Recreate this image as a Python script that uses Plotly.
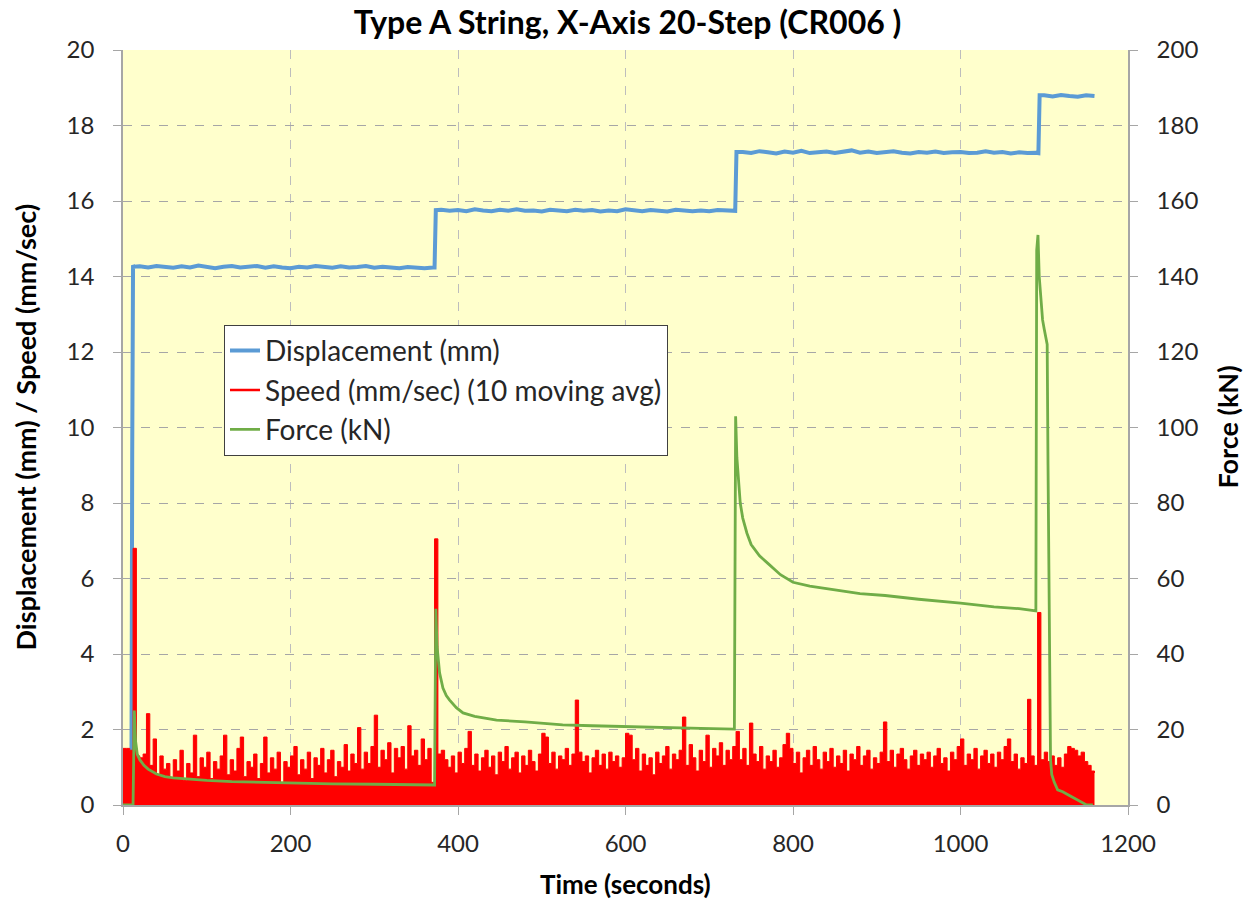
import numpy as np
import plotly.graph_objects as go

# ---------------- data ----------------
# Displacement (mm): times and values
disp_time_start = [0, 10, 11, 12, 13]
disp_start = [0.0, 0.0, 9.3, 14.3, 14.26]
disp_p1 = [14.27, 14.24, 14.28, 14.25, 14.23, 14.27, 14.24, 14.29, 14.25, 14.22,
           14.26, 14.28, 14.24, 14.25, 14.28, 14.23, 14.27, 14.24, 14.22, 14.26,
           14.24, 14.28, 14.25, 14.23, 14.27, 14.24, 14.25, 14.28, 14.23, 14.26,
           14.24, 14.22, 14.25, 14.23, 14.22, 14.24]          # t = 20, 30, ...
disp_p2 = [15.77, 15.74, 15.76, 15.73, 15.78, 15.75, 15.73, 15.77, 15.74, 15.78,
           15.74, 15.75, 15.72, 15.77, 15.75, 15.73, 15.77, 15.74, 15.76, 15.72,
           15.75, 15.73, 15.78, 15.75, 15.73, 15.76, 15.74, 15.72, 15.77, 15.75,
           15.73, 15.75, 15.73, 15.76, 15.74, 15.72]          # t = 380, 390, ...
disp_p3 = [17.30, 17.27, 17.32, 17.29, 17.26, 17.31, 17.28, 17.33, 17.27, 17.29,
           17.31, 17.27, 17.30, 17.34, 17.28, 17.31, 17.27, 17.29, 17.32, 17.28,
           17.26, 17.30, 17.28, 17.31, 17.27, 17.29, 17.30, 17.27, 17.28, 17.32,
           17.28, 17.30, 17.26, 17.29, 17.27, 17.28]          # t = 740, 750, ...
disp_p4 = [18.80, 18.77, 18.81, 18.78, 18.76, 18.80, 18.78]  # t = 1100, 1110, ...

# Speed (mm/sec) (10 moving avg), sampled every 4 s
speed_a = [1.50, 1.50, 1.45, 6.80, 1.30, 1.25, 1.35, 2.42, 1.05, 1.75,
           0.80, 1.30, 0.95, 1.10, 0.70, 1.20, 0.90, 1.45, 0.65, 1.10,
           0.85, 1.85, 0.75, 1.25, 1.00, 1.40, 0.70, 1.15, 0.95, 1.30,
           1.85, 0.80, 1.20, 0.90, 1.50, 1.80, 0.75, 1.15, 1.00, 1.35,
           0.70, 1.10, 1.80, 0.85, 1.25, 0.95, 1.40, 0.60, 1.15, 1.00,
           1.30, 1.55, 0.80, 1.20, 0.95, 1.40, 0.70, 1.25, 1.05, 1.50,
           0.85, 1.20, 1.45, 0.75, 1.15, 1.00, 1.60, 0.90, 1.35, 1.10,
           2.05, 0.95, 1.40, 1.10, 1.55, 2.38, 1.00, 1.45, 1.20, 1.65,
           0.85, 1.50, 1.25, 1.55, 0.95, 2.10, 1.30, 1.45, 1.05, 1.75,
           1.20, 1.50, 0.60]                                   # t = 0 ... 368
speed_b = [7.05, 1.35, 1.45, 1.20, 1.00, 1.30, 0.85, 1.40, 1.10, 1.50,
           1.95, 1.05, 1.35, 0.90, 1.25, 1.45, 1.00, 1.30, 0.80, 1.40,
           1.15, 1.55, 0.95, 1.25, 1.40, 0.85, 1.30, 1.05, 1.45, 1.15,
           0.90, 1.35, 1.90, 1.80, 1.10, 1.40, 0.95, 1.30, 1.20, 1.50,
           1.05, 1.35, 2.78, 1.40, 1.15, 1.30, 0.85, 1.25, 1.45, 1.05,
           1.35, 0.95, 1.40, 1.15, 1.30, 1.00, 1.25, 1.90, 1.85, 1.20,
           1.50, 0.90, 1.35, 1.05, 1.25, 0.80, 1.40, 1.10, 1.30, 1.55,
           0.95, 1.35, 1.20, 1.45, 2.33, 1.05, 1.60, 1.25, 0.90, 1.45,
           1.15, 1.85, 1.00, 1.50, 1.30, 1.65, 1.05, 1.45, 1.20, 1.55]   # t = 372 ...
speed_c = [1.95, 1.20, 1.50, 1.05, 2.17, 1.35, 1.15, 1.55, 0.95, 1.30,
           1.15, 1.45, 1.00, 1.25, 1.60, 1.90, 1.50, 1.10, 1.40, 0.85,
           1.25, 1.45, 1.05, 1.55, 1.20, 0.95, 1.40, 1.15, 1.50, 1.00,
           1.30, 1.10, 1.45, 0.90, 1.35, 1.20, 1.55, 1.05, 1.30, 1.45,
           0.95, 1.25, 1.10, 1.40, 2.20, 1.15, 1.45, 1.00, 1.35, 1.50,
           1.20, 0.95, 1.30, 1.45, 1.05, 1.35, 1.20, 1.40, 1.00, 1.30,
           1.50, 1.10, 1.25, 0.90, 1.40, 1.20, 1.55, 1.75, 1.05, 1.35,
           1.20, 1.50, 0.95, 1.30, 1.45, 1.10, 1.35, 1.00, 1.40, 1.20,
           1.55, 1.75, 1.15, 1.35, 0.95, 1.25, 1.10, 2.80, 1.30, 1.05,
           5.10, 1.20, 1.40, 1.15, 1.30, 1.05, 1.25, 1.00, 1.35, 1.55,
           1.50, 1.45, 1.30, 1.40, 1.15, 1.05, 0.90, 0.85]     # t = 732 ...

# Force (kN)
force_time = [0, 12, 13.5, 15, 17, 20, 25, 30, 40, 50, 60, 80, 100, 130, 160, 200,
              250, 300, 340, 372, 373.5, 375, 378, 382, 386, 390, 398, 406, 420,
              446, 480, 525, 560, 605, 650, 690, 730, 731.5, 733, 735, 737, 740,
              745, 750, 760, 770, 785, 800, 820, 850, 880, 910, 950, 1000, 1040,
              1070, 1090, 1091, 1092.5, 1094, 1096, 1098, 1100, 1102, 1103.5,
              1104.5, 1105.5, 1106.5, 1107.5, 1109, 1112, 1116, 1122, 1130, 1138,
              1145, 1150, 1158]
force_val = [0, 0, 25, 17, 13.5, 12, 10.5, 9.5, 8.2, 7.5, 7.2, 6.8, 6.5, 6.2, 6.0,
             5.8, 5.6, 5.5, 5.4, 5.3, 52, 42, 35, 31, 29, 27.8, 25.8, 24.4, 23.5,
             22.5, 22.0, 21.2, 21.0, 20.7, 20.5, 20.3, 20.1, 103, 92, 85, 80, 76,
             72, 69, 66, 64, 61, 59, 58, 57, 56, 55.5, 54.5, 53.5, 52.5, 52.0, 51.4,
             147, 151, 140, 134.5, 128.5, 126, 124, 122, 90, 60, 30, 12, 8, 6, 4,
             3.5, 2.5, 1.5, 0.5, 0.1, 0]

# ---------------- build time axes ----------------
disp_time = (disp_time_start
             + [20 + 10 * i for i in range(len(disp_p1))]
             + [372, 373.5]
             + [380 + 10 * i for i in range(len(disp_p2))]
             + [731, 732.5]
             + [740 + 10 * i for i in range(len(disp_p3))]
             + [1093, 1094.5]
             + [1100 + 10 * i for i in range(len(disp_p4))])
disp_val = (disp_start + disp_p1 + [14.24, 15.76] + disp_p2 + [15.74, 17.30]
            + disp_p3 + [17.27, 18.80] + disp_p4)

speed_time = ([4 * i for i in range(len(speed_a))]
              + [372 + 4 * i for i in range(len(speed_b))]
              + [732 + 4 * i for i in range(len(speed_c))])
speed_val = speed_a + speed_b + speed_c

FONT = "Lato"
BLUE, RED, GREEN = "#5B9BD5", "#FF0000", "#70AD47"
fig = go.Figure()
fig.add_trace(go.Scatter(x=disp_time, y=disp_val, name="Displacement (mm)",
                         mode="lines", line=dict(color=BLUE, width=4), legendrank=1))
fig.add_trace(go.Scatter(x=speed_time, y=speed_val, name="Speed (mm/sec) (10 moving avg)",
                         mode="lines", line=dict(color=RED, width=1, shape="hv"),
                         fill="tozeroy", fillcolor=RED, showlegend=False))
# legend entry for speed drawn as a line, like the reference
fig.add_trace(go.Scatter(x=[None], y=[None], name="Speed (mm/sec) (10 moving avg)",
                         mode="lines", line=dict(color=RED, width=2.5), legendrank=2))
fig.add_trace(go.Scatter(x=force_time, y=force_val, name="Force (kN)", yaxis="y2",
                         mode="lines", line=dict(color=GREEN, width=2.8), legendrank=3))

axis_common = dict(showline=True, linecolor="#A6A6A6", linewidth=1.5,
                   ticks="outside", ticklen=8, tickcolor="#A6A6A6",
                   tickfont=dict(family=FONT, size=24, color="#262626"),
                   zeroline=False, automargin=False)
TFONT = dict(family=FONT, size=27, color="#000000")

W, H = 1245, 899
ML, MT, PW, PH = 123, 50, 1005, 755
fig.update_layout(
    width=W, height=H,
    paper_bgcolor="white", plot_bgcolor="#FFFFCC",
    margin=dict(l=ML, r=W - ML - PW, t=MT, b=H - MT - PH),
    title=dict(text="<b>Type A String, X-Axis 20-Step (CR006 )</b>", x=(ML + PW / 2 + 2) / W,
               xanchor="center", y=1 - 23 / H, yanchor="middle",
               font=dict(family=FONT, size=32, color="#000000")),
    xaxis=dict(range=[0, 1200], dtick=200, showgrid=True, gridcolor="#BDBDBD",
               griddash="dash", gridwidth=1, ticklabelstandoff=8,
               **axis_common),
    yaxis=dict(range=[0, 20], dtick=2, showgrid=True, gridcolor="#A6A6A6",
               griddash="dash", gridwidth=1, ticklabelstandoff=14,
               **axis_common),
    yaxis2=dict(range=[0, 200], dtick=20, overlaying="y", side="right", showgrid=False,
                ticklabelstandoff=14, **axis_common),
    legend=dict(x=0.1005, y=0.636, xanchor="left", yanchor="top",
                bgcolor="white", bordercolor="#404040", borderwidth=1,
                font=dict(family=FONT, size=28, color="#262626"),
                itemwidth=30, tracegroupgap=0),
    showlegend=True,
    annotations=[
        dict(text="<b>Time (seconds)</b>", xref="paper", yref="paper", x=0.5, y=0,
             xanchor="center", yanchor="middle", yshift=-79, showarrow=False,
             font=dict(family=FONT, size=26, color="#000000")),
        dict(text="<b>Displacement (mm) / Speed (mm/sec)</b>", xref="paper", yref="paper",
             x=0, y=0.5, xanchor="center", yanchor="middle", xshift=-98, textangle=-90,
             showarrow=False, font=TFONT),
        dict(text="<b>Force (kN)</b>", xref="paper", yref="paper", x=1, y=0.5,
             xanchor="center", yanchor="middle", xshift=99, textangle=-90,
             showarrow=False, font=TFONT),
    ],
)
# remove the default 8px page margin so the figure fills the 1245x899 window exactly
fig.write_html("out.html", config={"displayModeBar": False},
               post_script="document.body.style.margin='0px';")
